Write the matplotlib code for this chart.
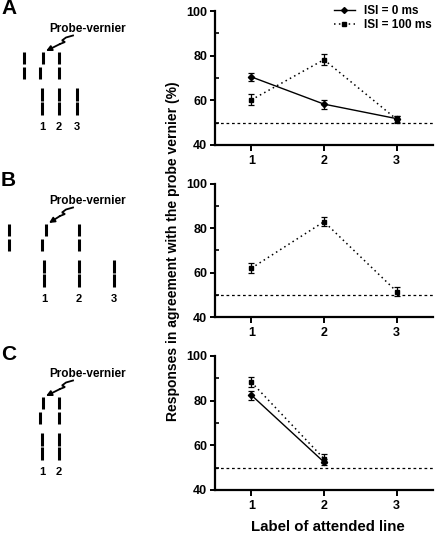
import matplotlib
matplotlib.use("Agg")
import matplotlib.pyplot as plt
from matplotlib.lines import Line2D

plt.rcParams['font.family'] = ['Liberation Sans', 'DejaVu Sans']
plt.rcParams['font.weight'] = 'bold'

# ---------------- data ----------------
line_labels = [1, 2, 3]
series_names = ["ISI = 0 ms", "ISI = 100 ms"]

A_isi0 = [70.5, 58.3, 51.8]
A_isi0_err = [1.8, 2.0, 1.3]
A_isi100 = [60.2, 78.2, 51.5]
A_isi100_err = [2.5, 2.4, 1.5]

B_isi100 = [62.0, 83.0, 51.5]
B_isi100_err = [2.2, 2.0, 2.0]

C_labels = [1, 2]
C_isi0 = [82.5, 52.5]
C_isi0_err = [2.0, 1.5]
C_isi100 = [88.3, 54.0]
C_isi100_err = [2.2, 2.0]

chance = 50
yticks = [40, 60, 80, 100]
yminor = [50, 70, 90]
panel_letters = ["A", "B", "C"]

# ---------------- figure ----------------
W, H = 439, 535
fig = plt.figure(figsize=(W / 100, H / 100), dpi=100)

def px_rect(left, top, right, bottom):
    return [left / W, 1 - bottom / H, (right - left) / W, (bottom - top) / H]

axA = fig.add_axes(px_rect(215, 11, 433, 145))
axB = fig.add_axes(px_rect(215, 184, 433, 317))
axC = fig.add_axes(px_rect(215, 356, 433, 490))

solid_kw = dict(color='black', linestyle='-', linewidth=1.0, marker='D', markersize=3.2,
                capsize=2.2, elinewidth=0.9, capthick=0.9)
dot_kw = dict(color='black', linestyle=(0, (1, 2.2)), linewidth=1.1, marker='s', markersize=3.2,
              capsize=2.2, elinewidth=0.9, capthick=0.9)

axA.errorbar(line_labels, A_isi0, yerr=A_isi0_err, **solid_kw)
axA.errorbar(line_labels, A_isi100, yerr=A_isi100_err, **dot_kw)
axB.errorbar(line_labels, B_isi100, yerr=B_isi100_err, **dot_kw)
axC.errorbar(C_labels, C_isi100, yerr=C_isi100_err, **dot_kw)
axC.errorbar(C_labels, C_isi0, yerr=C_isi0_err, **solid_kw)

for ax in (axA, axB, axC):
    ax.axhline(chance, color='black', linestyle=(0, (2.2, 2.2)), linewidth=0.9, zorder=0)
    ax.set_xlim(0.5, 3.5)
    ax.set_ylim(40, 100)
    ax.set_xticks(line_labels)
    ax.set_yticks(yticks)
    ax.set_yticks(yminor, minor=True)
    ax.spines['top'].set_visible(False)
    ax.spines['right'].set_visible(False)
    ax.spines['left'].set_linewidth(1.6)
    ax.spines['bottom'].set_linewidth(1.6)
    ax.tick_params(axis='both', which='major', direction='out', length=3.5, width=1.4,
                   labelsize=9, pad=2)
    ax.tick_params(axis='x', which='major', length=4, pad=3)
    ax.tick_params(axis='y', which='minor', direction='in', length=3, width=1.2)
    for lab in ax.get_xticklabels() + ax.get_yticklabels():
        lab.set_fontweight('bold')
    ax.patch.set_alpha(0)

handles = [
    Line2D([], [], color='black', linestyle='-', linewidth=1.0, marker='D', markersize=3.0),
    Line2D([], [], color='black', linestyle=(0, (1, 2.2)), linewidth=1.1, marker='s', markersize=3.0),
]
leg = axA.legend(handles, series_names, loc='upper right', frameon=False,
                 bbox_to_anchor=(432 / W, 1 - 5 / H), bbox_transform=fig.transFigure,
                 borderpad=0, borderaxespad=0, handlelength=1.8, handletextpad=0.8,
                 labelspacing=0.15, prop={'size': 8.5, 'weight': 'bold'})

fig.text(173 / W, 1 - 251 / H, "Responses in agreement with the probe vernier (%)",
         rotation=90, ha='center', va='center', fontsize=10, fontweight='bold')
fig.text(328 / W, 1 - 527 / H, "Label of attended line",
         ha='center', va='center', fontsize=10.8, fontweight='bold')

# ---------------- schematic stimuli (left column) ----------------
sk = fig.add_axes([0, 0, 1, 1], zorder=-1)
sk.set_xlim(0, W)
sk.set_ylim(H, 0)
sk.axis('off')

def seg(x, y0, y1):
    sk.plot([x, x], [y0, y1], color='black', linewidth=2.2, solid_capstyle='butt')

def stim(dy, flank_left, v_up, v_low, flank_right, bottom_xs, letter, letter_y):
    # top row
    if flank_left is not None:
        seg(flank_left, 52 + dy, 64 + dy)
        seg(flank_left, 67 + dy, 79 + dy)
    seg(v_up, 52 + dy, 64 + dy)
    seg(v_low, 67 + dy, 79 + dy)
    seg(flank_right, 52 + dy, 64 + dy)
    seg(flank_right, 67 + dy, 79 + dy)
    # bottom row
    for i, bx in enumerate(bottom_xs):
        seg(bx, 88 + dy, 101 + dy)
        seg(bx, 102 + dy, 115 + dy)
        sk.text(bx, 127 + dy, str(i + 1), ha='center', va='center', fontsize=8, fontweight='bold')
    # label text and squiggly arrow
    sk.text(88, 29 + dy, "Probe-vernier", ha='center', va='center', fontsize=8.5, fontweight='bold')
    xs = [73, 66, 62, 65, 60]
    ys = [35.5 + dy, 37.5 + dy, 40.5 + dy, 42 + dy, 44 + dy]
    sk.plot(xs, ys, color='black', linewidth=1.3, solid_joinstyle='miter')
    sk.annotate("", xy=(v_up + 3, 51 + dy), xytext=(60, 44 + dy),
                arrowprops=dict(arrowstyle='-|>', color='black', lw=1.3,
                                mutation_scale=8, shrinkA=0, shrinkB=0))
    sk.text(1, letter_y, letter, ha='left', va='center', fontsize=15, fontweight='bold')

stim(0, 24, 43, 40, 59, [42, 59, 77], "A", 9)
stim(172, 9, 46, 42, 79, [44, 79, 114], "B", 181)
stim(345, None, 43, 40, 59, [42, 59], "C", 354)

fig.savefig("out.png", dpi=100)
